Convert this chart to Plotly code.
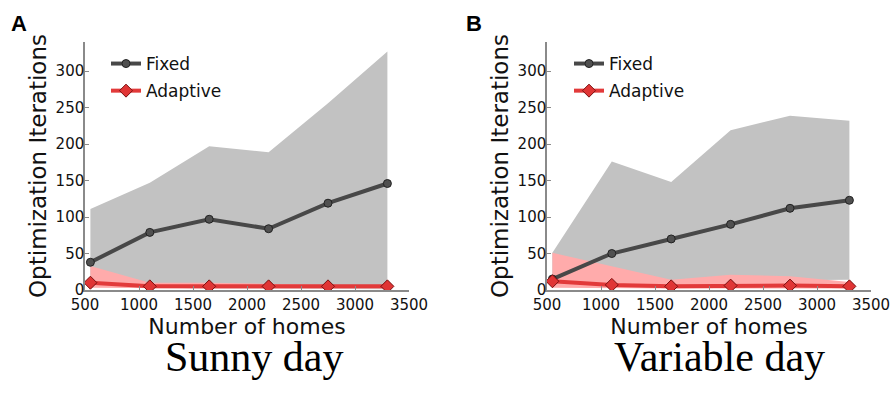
import plotly.graph_objects as go

homes = [550, 1100, 1650, 2200, 2750, 3300]

# Panel A: Sunny day
a_fixed = [38, 79, 97, 84, 119, 146]
a_fixed_hi = [111, 147, 197, 189, 256, 327]
a_fixed_lo = [5, 3, 2, 2, 1, 1]
a_adapt = [10, 5, 5, 5, 5, 5]
a_adapt_hi = [33, 10, 10, 8, 7, 7]
a_adapt_lo = [3, 2, 2, 2, 2, 2]

# Panel B: Variable day
b_fixed = [15, 50, 70, 90, 112, 123]
b_fixed_hi = [51, 176, 148, 219, 239, 232]
b_fixed_lo = [5, 10, 12, 13, 13, 14]
b_adapt = [12, 7, 5, 6, 6, 5]
b_adapt_hi = [51, 32, 14, 21, 19, 11]
b_adapt_lo = [3, 2, 2, 2, 2, 2]

x_ticks = [500, 1000, 1500, 2000, 2500, 3000, 3500]
y_ticks = [0, 50, 100, 150, 200, 250, 300]
panel_titles = ["Sunny day", "Variable day"]
panel_letters = ["A", "B"]

GRAY_BAND = "#c2c2c2"
PINK_BAND = "#ffabab"
FIXED_COL = "#484848"
ADAPT_COL = "#e23a3a"

fig = go.Figure()

panels = [
    (a_fixed, a_fixed_hi, a_fixed_lo, a_adapt, a_adapt_hi, a_adapt_lo, "x", "y", "legend"),
    (b_fixed, b_fixed_hi, b_fixed_lo, b_adapt, b_adapt_hi, b_adapt_lo, "x2", "y2", "legend2"),
]

for fixed, fhi, flo, adapt, ahi, alo, xa, ya, leg in panels:
    # gray band
    fig.add_trace(go.Scatter(x=homes, y=flo, mode="lines", line=dict(width=0, color=GRAY_BAND),
                             showlegend=False, hoverinfo="skip", xaxis=xa, yaxis=ya))
    fig.add_trace(go.Scatter(x=homes, y=fhi, mode="lines", line=dict(width=0, color=GRAY_BAND),
                             fill="tonexty", fillcolor=GRAY_BAND, showlegend=False,
                             hoverinfo="skip", xaxis=xa, yaxis=ya))
    # pink band
    fig.add_trace(go.Scatter(x=homes, y=alo, mode="lines", line=dict(width=0, color=PINK_BAND),
                             showlegend=False, hoverinfo="skip", xaxis=xa, yaxis=ya))
    fig.add_trace(go.Scatter(x=homes, y=ahi, mode="lines", line=dict(width=0, color=PINK_BAND),
                             fill="tonexty", fillcolor=PINK_BAND, showlegend=False,
                             hoverinfo="skip", xaxis=xa, yaxis=ya))
    # lines
    fig.add_trace(go.Scatter(x=homes, y=fixed, mode="lines+markers", name="Fixed",
                             line=dict(color=FIXED_COL, width=4),
                             marker=dict(symbol="circle", size=8, color="#505050",
                                         line=dict(color="#222222", width=1)),
                             legend=leg, legendgroup=leg + "f", xaxis=xa, yaxis=ya))
    fig.add_trace(go.Scatter(x=homes, y=adapt, mode="lines+markers", name="Adaptive",
                             line=dict(color=ADAPT_COL, width=4),
                             marker=dict(symbol="diamond", size=10, color="#e03535",
                                         line=dict(color="#7a1010", width=1)),
                             legend=leg, legendgroup=leg + "a", xaxis=xa, yaxis=ya))

Y_BOT = 1 - 290 / 399
Y_TOP = 1 - 42 / 399
XA = [85 / 890, 409 / 890]
XB = [547 / 890, 871 / 890]

axis_font = dict(family="DejaVu Sans", size=15, color="#111111")
xtitle_font = dict(family="DejaVu Sans", size=22, color="#111111")
ytitle_font = dict(family="DejaVu Sans", size=23, color="#111111")

xcommon = dict(range=[500, 3500], tickvals=x_ticks, ticktext=[str(t) for t in x_ticks],
               showgrid=False, zeroline=False, showline=True, linecolor="#8a8a8a", linewidth=1.5,
               ticks="inside", ticklen=4, tickcolor="#8a8a8a", tickfont=axis_font, automargin=False,
               ticklabeloverflow="allow",
               title=dict(text="Number of homes", font=xtitle_font, standoff=1))
ycommon = dict(range=[0, 340], tickvals=y_ticks, ticktext=[str(t) for t in y_ticks],
               showgrid=False, zeroline=False, showline=True, linecolor="#8a8a8a", linewidth=1.5,
               ticks="inside", ticklen=4, tickcolor="#8a8a8a", tickfont=axis_font, automargin=False,
               ticklabeloverflow="allow", ticklabelstandoff=-4,
               domain=[Y_BOT, Y_TOP],
               title=dict(text="Optimization Iterations", font=ytitle_font, standoff=3))

legend_common = dict(font=dict(family="DejaVu Sans", size=17, color="#111111"),
                     bgcolor="rgba(0,0,0,0)", xanchor="left", yanchor="top",
                     tracegroupgap=2, itemwidth=30, traceorder="grouped")

fig.update_layout(
    width=890, height=399,
    margin=dict(l=0, r=0, t=0, b=0, autoexpand=False),
    paper_bgcolor="white", plot_bgcolor="white",
    xaxis=dict(domain=XA, anchor="y", **xcommon),
    yaxis=dict(anchor="x", **ycommon),
    xaxis2=dict(domain=XB, anchor="y2", **xcommon),
    yaxis2=dict(anchor="x2", **ycommon),
    legend=dict(x=106 / 890, y=1 - 46 / 399, **legend_common),
    legend2=dict(x=569 / 890, y=1 - 46 / 399, **legend_common),
    showlegend=True,
)

# panel letters
for letter, cx in zip(panel_letters, [19, 474]):
    fig.add_annotation(text="<b>" + letter + "</b>", x=cx / 890, y=1 - 23 / 399,
                       xref="paper", yref="paper", xanchor="center", yanchor="middle",
                       showarrow=False, font=dict(family="Liberation Sans", size=22, color="black"))

# panel titles
for title, cx in zip(panel_titles, [255, 719]):
    fig.add_annotation(text=title, x=cx / 890, y=1 - 357 / 399, xref="paper", yref="paper",
                       xanchor="center", yanchor="middle",
                       showarrow=False, font=dict(family="Liberation Serif", size=42, color="black"))

fig.write_html("out.html")
